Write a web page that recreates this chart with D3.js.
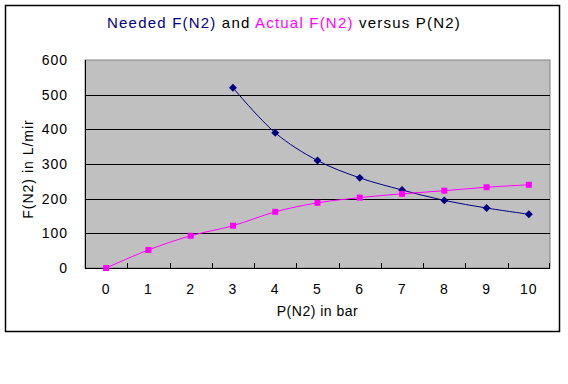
<!DOCTYPE html>
<html>
<head>
<meta charset="utf-8">
<script src="https://cdn.jsdelivr.net/npm/d3@7"></script>
<style>
  body { margin: 0; background: #fff; }
  svg text { font-family: "Liberation Sans", Arial, sans-serif; }
</style>
</head>
<body>
<div id="chart"></div>
<script>
// data
var pressures = [0, 1, 2, 3, 4, 5, 6, 7, 8, 9, 10];
var neededP = [3, 4, 5, 6, 7, 8, 9, 10];
var neededF = [520, 390, 310, 260, 225, 195, 173, 155];
var actualF = [0, 52, 93, 122, 162, 188, 203, 214, 223, 233, 240];
var yTicks = [0, 100, 200, 300, 400, 500, 600];

var W = 568, H = 384;
var plot = { left: 85, top: 60, right: 550, bottom: 268 };

var svg = d3.select("#chart").append("svg")
    .attr("width", W).attr("height", H);

// outer chart border
svg.append("rect")
    .attr("x", 5.5).attr("y", 5.5)
    .attr("width", 554).attr("height", 326)
    .attr("fill", "#fff").attr("stroke", "#000").attr("stroke-width", 1.5);

var x = d3.scaleBand().domain(pressures).range([plot.left, plot.right]).padding(0);
var y = d3.scaleLinear().domain([0, 600]).range([plot.bottom, plot.top]);
var cx = function(p) { return x(p) + x.bandwidth() / 2; };

// plot area
svg.append("rect")
    .attr("x", plot.left).attr("y", plot.top)
    .attr("width", plot.right - plot.left).attr("height", plot.bottom - plot.top)
    .attr("fill", "#c0c0c0").attr("stroke", "#808080").attr("stroke-width", 1);

// gridlines
svg.selectAll(".grid").data(yTicks.filter(function(d){ return d > 0 && d < 600; }))
  .enter().append("line")
    .attr("x1", plot.left).attr("x2", plot.right)
    .attr("y1", function(d){ return Math.round(y(d)) + 0.5; })
    .attr("y2", function(d){ return Math.round(y(d)) + 0.5; })
    .attr("stroke", "#000").attr("stroke-width", 1);

// axes lines
svg.append("line").attr("x1", plot.left + 0.5).attr("x2", plot.left + 0.5)
    .attr("y1", plot.top).attr("y2", plot.bottom).attr("stroke", "#000");
svg.append("line").attr("x1", plot.left).attr("x2", plot.right)
    .attr("y1", plot.bottom + 0.5).attr("y2", plot.bottom + 0.5).attr("stroke", "#000");

// x ticks at category boundaries, pointing up
svg.selectAll(".xtick").data(pressures.slice(1))
  .enter().append("line")
    .attr("x1", function(d){ return Math.round(x(d)) + 0.5; })
    .attr("x2", function(d){ return Math.round(x(d)) + 0.5; })
    .attr("y1", plot.bottom).attr("y2", plot.bottom - 5)
    .attr("stroke", "#000");
svg.append("line")
    .attr("x1", plot.right - 0.5).attr("x2", plot.right - 0.5)
    .attr("y1", plot.bottom).attr("y2", plot.bottom - 5).attr("stroke", "#000");

// tick labels
svg.selectAll(".xlab").data(pressures)
  .enter().append("text")
    .attr("x", cx).attr("y", 294)
    .attr("text-anchor", "middle").attr("font-size", 14)
    .attr("letter-spacing", 1)
    .text(function(d){ return d; });

svg.selectAll(".ylab").data(yTicks)
  .enter().append("text")
    .attr("x", 68).attr("y", function(d){ return y(d) + 5; })
    .attr("text-anchor", "end").attr("font-size", 14)
    .attr("letter-spacing", 1)
    .text(function(d){ return d; });

// axis titles
svg.append("text")
    .attr("x", (plot.left + plot.right) / 2).attr("y", 316)
    .attr("text-anchor", "middle").attr("font-size", 14)
    .attr("letter-spacing", 0.5)
    .text("P(N2) in bar");
svg.append("text")
    .attr("transform", "translate(33," + ((plot.top + plot.bottom) / 2 + 5) + ") rotate(-90)")
    .attr("text-anchor", "middle").attr("font-size", 14)
    .attr("letter-spacing", 1)
    .text("F(N2) in L/mir");

// title
var title = svg.append("text")
    .attr("x", 284).attr("y", 28)
    .attr("text-anchor", "middle").attr("font-size", 15)
    .attr("letter-spacing", 1.2);
title.append("tspan").attr("fill", "#000080").text("Needed F(N2)");
title.append("tspan").attr("fill", "#000").text(" and ");
title.append("tspan").attr("fill", "#ff00ff").text("Actual F(N2)");
title.append("tspan").attr("fill", "#000").text(" versus P(N2)");

// series
var line = d3.line()
    .x(function(d){ return cx(d[0]); })
    .y(function(d){ return y(d[1]); })
    .curve(d3.curveCatmullRom.alpha(0.5));

var needed = neededP.map(function(p, i){ return [p, neededF[i]]; });
var actual = pressures.map(function(p, i){ return [p, actualF[i]]; });

svg.append("path").datum(needed).attr("d", line)
    .attr("fill", "none").attr("stroke", "#000080").attr("stroke-width", 1);
svg.append("path").datum(actual).attr("d", line)
    .attr("fill", "none").attr("stroke", "#ff00ff").attr("stroke-width", 1);

svg.selectAll(".diamond").data(needed)
  .enter().append("path")
    .attr("d", d3.symbol().type(d3.symbolDiamond2).size(40))
    .attr("transform", function(d){ return "translate(" + cx(d[0]) + "," + y(d[1]) + ")"; })
    .attr("fill", "#000080");

svg.selectAll(".square").data(actual)
  .enter().append("rect")
    .attr("x", function(d){ return cx(d[0]) - 3; })
    .attr("y", function(d){ return y(d[1]) - 3; })
    .attr("width", 6).attr("height", 6)
    .attr("fill", "#ff00ff");
</script>
</body>
</html>
